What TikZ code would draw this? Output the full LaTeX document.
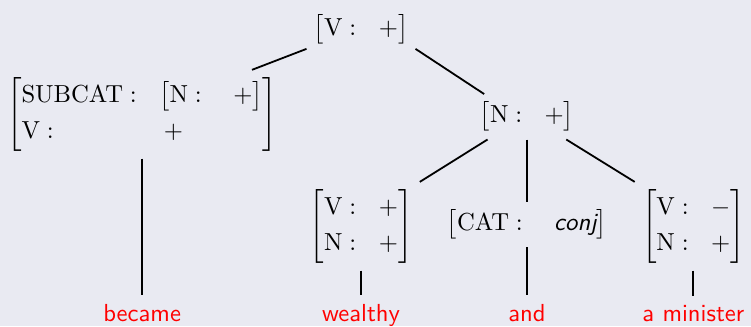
\documentclass[11pt,tikz,border=0pt]{standalone}
\usepackage{amsmath}
\usepackage{tikz}
\definecolor{slidebg}{RGB}{233,234,242}

\newcommand{\fstruct}[1]{\left[\begin{array}{@{}ll@{}}#1\end{array}\right]}

\begin{document}
\begin{tikzpicture}[
    fs/.style={inner sep=3.3pt, outer sep=0pt},
    word/.style={text=red, font=\sffamily, anchor=base},
    branch/.style={line width=0.8pt}]
  \fill[slidebg] (0,0) rectangle (11.73,5.094);
  \useasboundingbox (0,0) rectangle (11.73,5.094);

  % feature structures
  \node[fs, inner ysep=2pt] (root) at (5.64,4.64) {$\fstruct{\mathrm{V}: & +}$};
  \node[fs] (verb) at (2.22,3.31)
    {$\fstruct{\mathrm{SUBCAT}: & \fstruct{\mathrm{N}: & \hspace{4pt}+} \\[2.5pt] \mathrm{V}: & \hspace{2pt}+}$};
  \node[fs] (coord) at (8.23,3.27) {$\fstruct{\mathrm{N}: & +}$};
  \node[fs] (adj) at (5.64,1.56) {$\fstruct{\mathrm{V}: & + \\[2.5pt] \mathrm{N}: & +}$};
  \node[fs] (conj) at (8.23,1.59) {$\fstruct{\mathrm{CAT}: & \hspace{4pt}\textsf{\itshape conj}}$};
  \node[fs] (noun) at (10.83,1.56) {$\fstruct{\mathrm{V}: & - \\[2.5pt] \mathrm{N}: & +}$};

  % words
  \node[word] (w1) at (2.22,0.078) {became};
  \node[word] (w2) at (5.64,0.078) {wealthy};
  \node[word] (w3) at (8.23,0.078) {and};
  \node[word] (w4) at (10.83,0.078) {a minister};

  % branches
  \draw[branch] (root.south west) -- (verb.22);
  \draw[branch] (root.-20) -- (coord.152);
  \draw[branch] (coord.210) -- (adj.north east);
  \draw[branch] (coord.south) -- (conj.north);
  \draw[branch] (coord.-30) -- (noun.north west);
  \draw[branch] (verb.south) -- (w1.north);
  \draw[branch] (adj.south) -- (w2.north);
  \draw[branch] (conj.south) -- (w3.north);
  \draw[branch] (noun.south) -- (w4.north);
\end{tikzpicture}
\end{document}
